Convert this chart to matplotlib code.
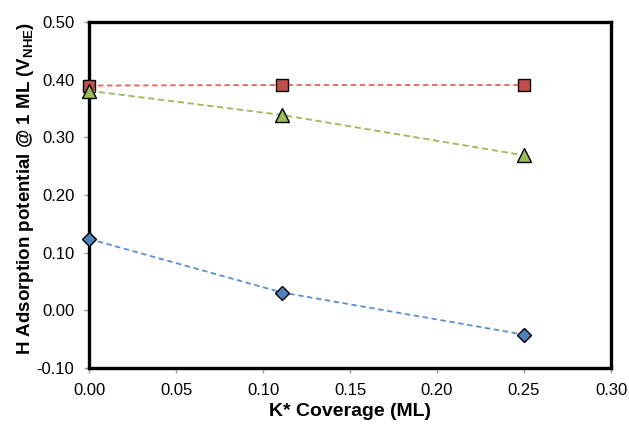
import matplotlib
matplotlib.use("Agg")
import matplotlib.pyplot as plt

plt.rcParams['font.family'] = ['Liberation Sans', 'DejaVu Sans']
plt.rcParams['mathtext.fontset'] = 'custom'
plt.rcParams['mathtext.rm'] = 'Liberation Sans:bold'
plt.rcParams['mathtext.bf'] = 'Liberation Sans:bold'

# Données
coverage = [0.0, 0.111, 0.25]
red_sq = [0.390, 0.391, 0.391]
green_tri = [0.381, 0.339, 0.269]
blue_dia = [0.124, 0.031, -0.042]

xticks = [0.00, 0.05, 0.10, 0.15, 0.20, 0.25, 0.30]
yticks = [-0.10, 0.00, 0.10, 0.20, 0.30, 0.40, 0.50]

fig = plt.figure(figsize=(6.29, 4.26), dpi=100)
ax = fig.add_axes([0.1415, 0.136, 0.830, 0.812])

ax.plot(coverage, red_sq, ls='--', color='#e0625c', lw=1.3, dashes=(3, 2),
        marker='s', ms=9, mfc='#c0504d', mec='black', mew=1.0, zorder=3, clip_on=False)
ax.plot(coverage, green_tri, ls='--', color='#9bbb59', lw=1.3, dashes=(3.5, 2),
        marker='^', ms=9.5, mfc='#9bbb59', mec='black', mew=1.0, zorder=3, clip_on=False)
ax.plot(coverage, blue_dia, ls='--', color='#5b8fd0', lw=1.3, dashes=(3, 2),
        marker='D', ms=6.8, mfc='#4f81bd', mec='black', mew=1.0, zorder=3, clip_on=False)

ax.set_xlim(0, 0.30)
ax.set_ylim(-0.10, 0.50)
ax.set_xticks(xticks)
ax.set_yticks(yticks)
ax.set_xticklabels([f"{v:.2f}" for v in xticks], fontsize=12)
ax.set_yticklabels([f"{v:.2f}" for v in yticks], fontsize=12)
ax.tick_params(direction='out', length=3.6, width=1, color='#999999', pad=7)

for s in ax.spines.values():
    s.set_linewidth(2.4)
    s.set_color('black')

ax.set_xlabel("K* Coverage (ML)", fontsize=14, fontweight='bold', labelpad=4)
ax.set_ylabel("H Adsorption potential @ 1 ML (V$_{\\mathregular{NHE}}$)",
              fontsize=13.5, fontweight='bold')
ax.yaxis.set_label_coords(-0.1015, 0.52)

fig.savefig("out.png", dpi=100)
